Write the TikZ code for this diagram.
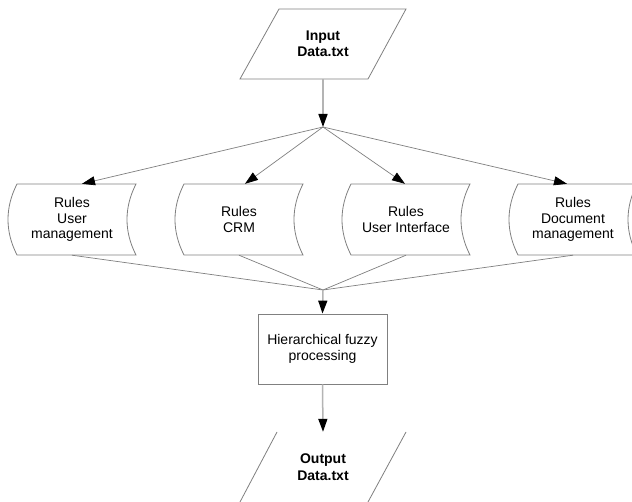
\documentclass[tikz,border=0pt]{standalone}
\usepackage{fontspec}
\setmainfont{Liberation Sans}
\usetikzlibrary{arrows.meta,calc}
\definecolor{edgegray}{HTML}{808080}
\definecolor{shaftgray}{HTML}{B4B4B4}
\begin{document}
\begin{tikzpicture}[x=1pt,y=-1pt,
  txt/.style={font=\fontsize{14}{15.5}\selectfont, align=center, inner sep=0pt},
  btxt/.style={font=\fontsize{14}{16.5}\selectfont\bfseries, align=center, inner sep=0pt},
  rulebox/.style={txt, minimum height=71pt, minimum width=110pt},
  tip/.style={-{Triangle[length=13pt,width=9pt,color=black]}},
  branch/.style={draw=edgegray, line width=0.7pt},
  shaft/.style={draw=shaftgray, line width=1.5pt},
  outline/.style={draw=edgegray, line width=0.8pt}]
\fill[white] (0,0) rectangle (632,502);
\useasboundingbox (0,0) rectangle (632,502);

% input
\node[btxt, minimum height=70pt] (in) at (323,44) {Input\\Data.txt};
\draw[outline] ($(in)+(-44,-35)$) -- ($(in)+(83,-35)$) -- ($(in)+(45,35)$) -- ($(in)+(-83,35)$) -- cycle;

\coordinate (j1) at (323,127);
\coordinate (j2) at (323,290);

% rule boxes
\node[rulebox] (b1) at (72,219.5) {Rules\\User\\management};
\node[rulebox] (b2) at (239,219.5) {Rules\\CRM};
\node[rulebox] (b3) at (406,219.5) {Rules\\User Interface};
\node[rulebox] (b4) at (573,219.5) {Rules\\Document\\management};
\foreach \b in {b1,b2,b3,b4}{
  \draw[outline] ($(\b)+(-55,-35.5)$) -- ($(\b)+(64,-35.5)$)
    .. controls ($(\b)+(52,-12)$) and ($(\b)+(52,12)$) .. ($(\b)+(64,35.5)$)
    -- ($(\b)+(-55,35.5)$)
    .. controls ($(\b)+(-67,12)$) and ($(\b)+(-67,-12)$) .. cycle;
}

% processing
\node[txt, draw=edgegray, line width=0.8pt, minimum width=129pt, minimum height=70pt] (proc) at (322.5,349) {Hierarchical fuzzy\\processing};

% output
\node[btxt, minimum height=70pt] (out) at (323,467) {Output\\Data.txt};
\draw[outline] ($(out)+(-46,-35)$) -- ($(out)+(-83,35)$);
\draw[outline] ($(out)+(83,-35)$) -- ($(out)+(45,35)$);

% connectors
\draw[shaft,tip] (in.south) -- (j1);
\draw[branch,tip] (j1) -- ([xshift=10pt]b1.north);
\draw[branch,tip] (j1) -- ([xshift=6pt]b2.north);
\draw[branch,tip] (j1) -- ([xshift=-1pt]b3.north);
\draw[branch,tip] (j1) -- ([xshift=-6pt]b4.north);
\foreach \b in {b1,b2,b3,b4}{
  \draw[branch] (\b.south) -- (j2);
}
\draw[shaft,tip] (j2) -- (proc.north);
\draw[shaft,tip] (proc.south) -- (out.north);
\end{tikzpicture}
\end{document}
